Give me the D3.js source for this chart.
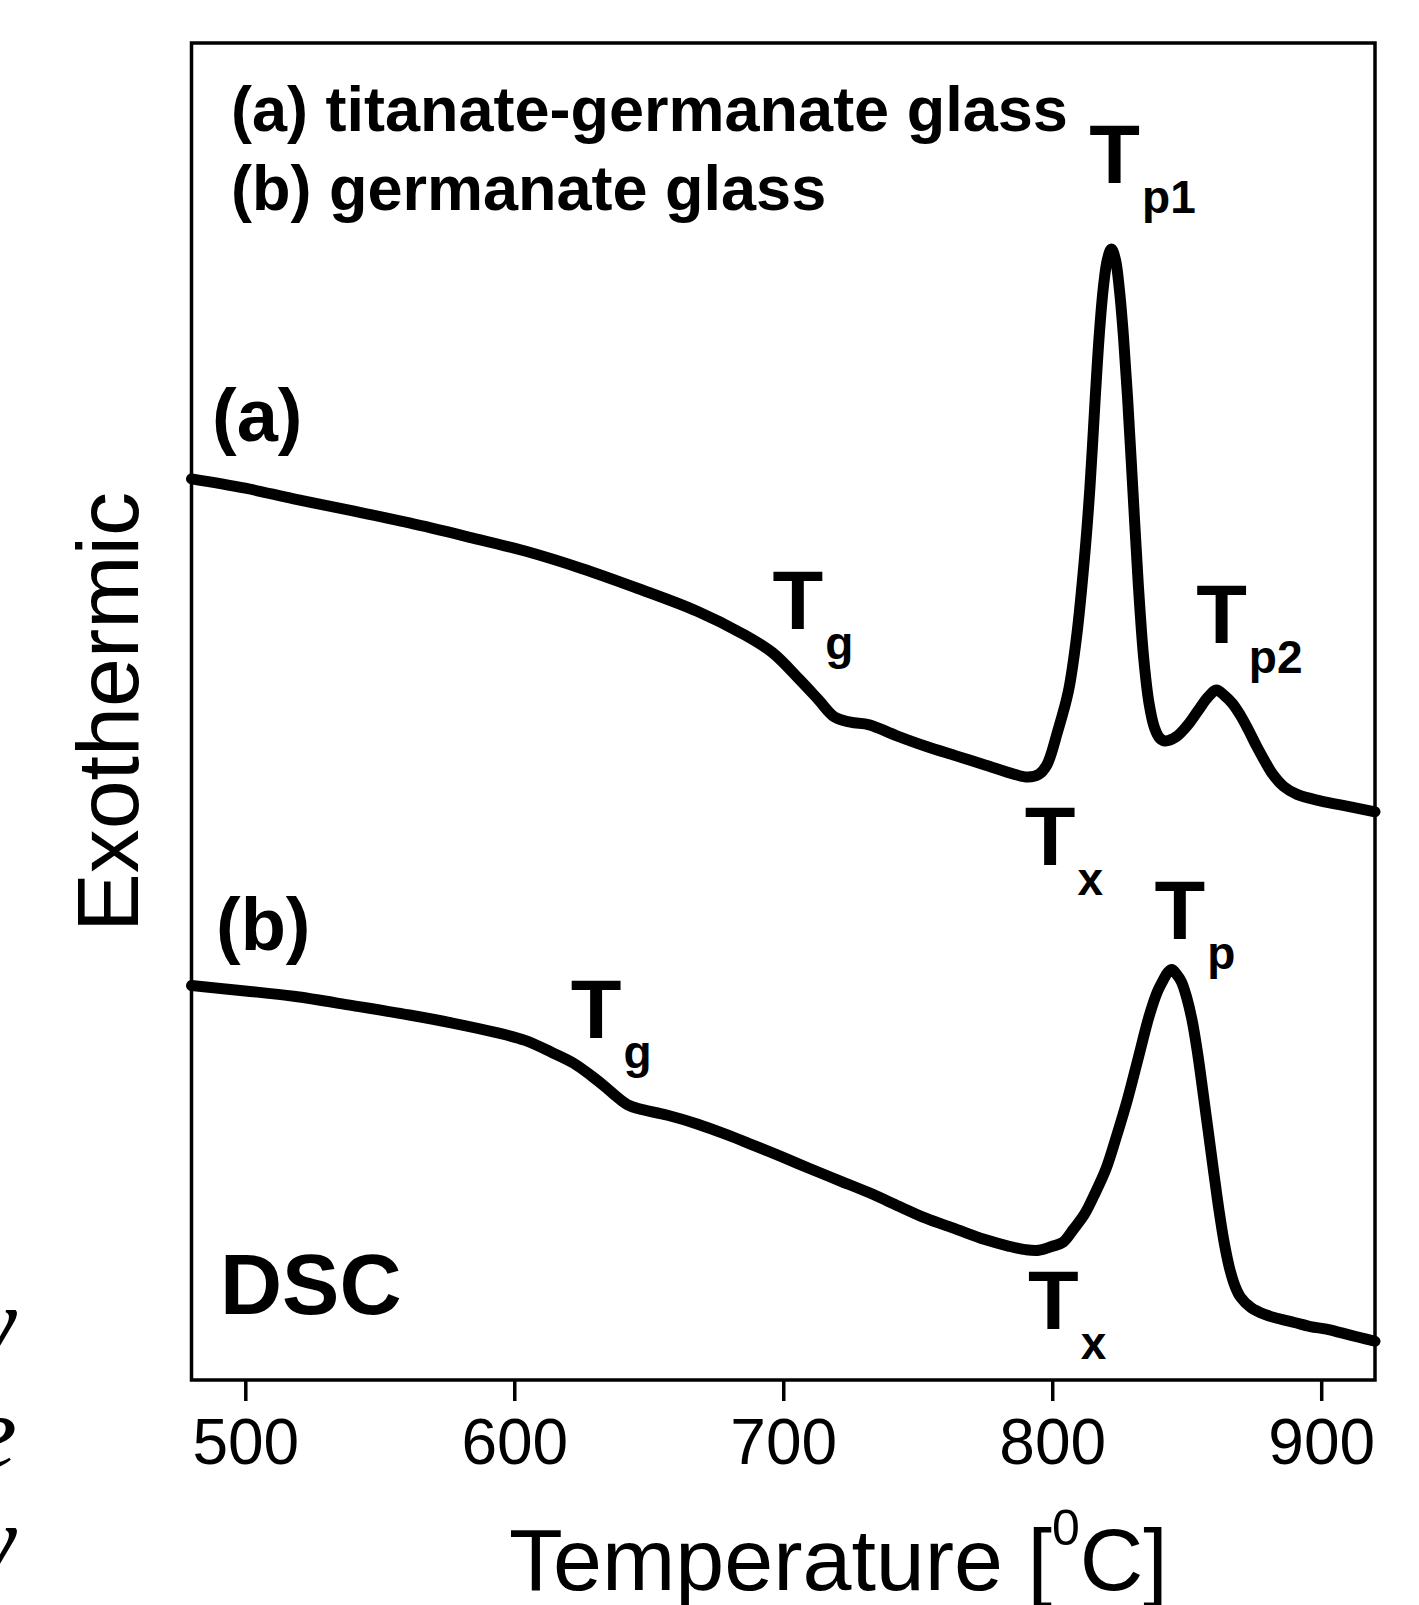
<!DOCTYPE html>
<html>
<head>
    <meta charset="utf-8">
    <title>DSC</title>
    <script src="https://d3js.org/d3.v7.min.js"></script>
    <style>
        body { margin: 0; background: #fff; }
        text { font-family: "Liberation Sans", Arial, sans-serif; fill: #000; }
    </style>
</head>
<body>
<script>
// curve (a) titanate-germanate glass
var tempA = [480, 500, 518, 540, 561, 582, 604, 625, 646, 668, 685, 696, 706, 713, 719, 725, 732, 742, 753, 764,
             775, 786, 791, 795, 798, 802, 806, 809, 812, 814, 816, 817.5, 819, 820.5, 822, 823.5, 825, 826.5, 828, 830,
             832, 834, 836, 838, 840, 842, 846, 850, 854, 858, 861, 864, 867, 870, 873, 876, 879, 882, 886, 891,
             900, 910, 920];
var heatA = [67.4, 66.7, 65.9, 65.0, 64.1, 63.1, 62.0, 60.7, 59.2, 57.5, 55.8, 54.4, 52.4, 50.9, 49.6, 49.2, 49.0, 48.2, 47.4, 46.7,
             46.0, 45.3, 45.1, 45.3, 46.0, 48.5, 51.5, 55.5, 61.5, 66.7, 73.5, 78.2, 81.7, 83.8, 84.6, 83.8, 81.5, 78.0, 73.5, 66.5,
             59.5, 54.0, 50.6, 48.8, 48.0, 47.8, 48.1, 48.9, 50.0, 51.1, 51.6, 51.2, 50.6, 49.7, 48.6, 47.4, 46.3, 45.3, 44.4, 43.8,
             43.3, 42.9, 42.5];

// curve (b) germanate glass
var tempB = [480, 500, 518, 540, 561, 577, 593, 604, 614, 622, 629, 634, 638, 642, 646, 657, 668, 679, 689, 700,
             710, 721, 732, 743, 753, 764, 775, 784, 790, 795, 800, 804, 808, 812, 816, 820, 824, 828, 832, 836,
             839, 841.5, 843, 844.5, 846, 848, 850, 852, 854, 856, 858, 860, 862, 864, 866, 868, 870, 874, 879, 884,
             890, 896, 902, 908, 914, 920];
var heatB = [29.5, 29.1, 28.7, 28.0, 27.3, 26.7, 26.0, 25.4, 24.5, 23.7, 22.7, 21.9, 21.2, 20.6, 20.3, 19.8, 19.15, 18.35, 17.55, 16.65,
             15.8, 14.9, 14.0, 13.0, 12.1, 11.3, 10.5, 10.0, 9.75, 9.7, 10.0, 10.3, 11.3, 12.4, 14.0, 15.8, 18.3, 21.0, 24.1, 27.2,
             29.0, 30.0, 30.5, 30.7, 30.4, 29.8, 28.6, 26.9, 24.5, 21.6, 18.6, 15.6, 12.7, 10.2, 8.3, 7.0, 6.2, 5.4, 4.9, 4.6,
             4.3, 4.0, 3.8, 3.5, 3.2, 2.9];

var xTicks = [500, 600, 700, 800, 900];

// characteristic temperature labels, anchored in data units
var markSub = ["g", "x", "p1", "p2", "g", "x", "p"];
var markT = [696, 789.8, 813.8, 853.5, 621, 791, 838];
var markV = [56.2, 38.5, 89.5, 55.1, 25.6, 3.8, 33.0];

var legendLines = ["(a) titanate-germanate glass", "(b) germanate glass"];

var W = 1419, H = 1605;
var plotL = 191.5, plotR = 1375, plotT = 43, plotB = 1380;

var svg = d3.select("body").append("svg")
    .attr("width", W)
    .attr("height", H);

var x = d3.scaleLinear().domain([480, 920]).range([plotL, plotR]);
var y = d3.scaleLinear().domain([0, 100]).range([plotB, plotT]);

// stray text from neighbouring page column
svg.selectAll(".stray")
    .data(["y", "e", "y"])
    .enter().append("text")
    .attr("x", 17)
    .attr("y", function(d, i) { return 1358 + i * 109; })
    .attr("text-anchor", "end")
    .style("font-family", "'Liberation Serif', 'Times New Roman', serif")
    .style("font-style", "italic")
    .style("font-size", "104px")
    .text(function(d) { return d; });

// frame
svg.append("rect")
    .attr("x", plotL).attr("y", plotT)
    .attr("width", plotR - plotL).attr("height", plotB - plotT)
    .attr("fill", "none")
    .attr("stroke", "#000")
    .attr("stroke-width", 3.5);

var xAxis = svg.append("g")
    .attr("transform", "translate(0," + plotB + ")")
    .call(d3.axisBottom(x).tickValues(xTicks).tickSize(21).tickPadding(18).tickFormat(d3.format("d")));
xAxis.select(".domain").remove();
xAxis.selectAll("line").attr("stroke-width", 3.5);
xAxis.selectAll("text")
    .style("font-family", "'Liberation Sans', Arial, sans-serif")
    .style("font-size", "64px");

svg.append("text")
    .attr("x", 509)
    .attr("y", 1590)
    .style("font-size", "88px")
    .text("Temperature [")
    .append("tspan").attr("dy", -45).style("font-size", "50px").text("0")
    .select(function() { return this.parentNode; })
    .append("tspan").attr("dy", 45).text("C]");

svg.append("text")
    .attr("transform", "translate(138,712) rotate(-90)")
    .attr("text-anchor", "middle")
    .style("font-size", "88px")
    .text("Exothermic");

var line = d3.line()
    .x(function(d) { return x(d[0]); })
    .y(function(d) { return y(d[1]); })
    .curve(d3.curveCatmullRom.alpha(0.5));

[[tempA, heatA], [tempB, heatB]].forEach(function(s) {
    svg.append("path")
        .attr("d", line(d3.zip(s[0], s[1])))
        .attr("fill", "none")
        .attr("stroke", "#000")
        .attr("stroke-width", 11)
        .attr("stroke-linecap", "round")
        .attr("stroke-linejoin", "round");
});

// legend text
svg.selectAll(".legend")
    .data(legendLines)
    .enter().append("text")
    .attr("x", 231)
    .attr("y", function(d, i) { return 131 + i * 79; })
    .style("font-size", "63px")
    .style("font-weight", "bold")
    .text(function(d) { return d; });

svg.append("text").attr("x", 212).attr("y", 441)
    .style("font-size", "74px").style("font-weight", "bold").text("(a)");
svg.append("text").attr("x", 216).attr("y", 950)
    .style("font-size", "74px").style("font-weight", "bold").text("(b)");
svg.append("text").attr("x", 220).attr("y", 1314)
    .style("font-size", "86px").style("font-weight", "bold").text("DSC");

markSub.forEach(function(sub, i) {
    var t = svg.append("text")
        .attr("x", x(markT[i]))
        .attr("y", y(markV[i]))
        .style("font-weight", "bold")
        .style("font-size", "83px")
        .text("T");
    t.append("tspan")
        .attr("dx", 2)
        .attr("dy", 30)
        .style("font-size", "46px")
        .text(sub);
});
</script>
</body>
</html>
